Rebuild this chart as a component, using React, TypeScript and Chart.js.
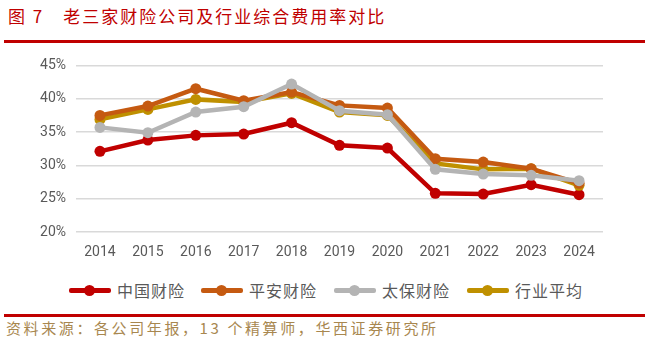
import React, { useEffect, useRef } from "react";
import { Chart, registerables } from "chart.js";

Chart.register(...registerables);

const years = ["2014", "2015", "2016", "2017", "2018", "2019", "2020", "2021", "2022", "2023", "2024"];
const picc = [32.1, 33.8, 34.5, 34.7, 36.4, 33.0, 32.6, 25.8, 25.7, 27.1, 25.6];
const pingan = [37.5, 38.9, 41.5, 39.7, 41.0, 39.0, 38.6, 31.0, 30.5, 29.5, 27.3];
const cpic = [35.7, 34.9, 38.0, 38.8, 42.2, 38.2, 37.6, 29.4, 28.7, 28.5, 27.7];
const industry = [36.9, 38.4, 39.9, 39.5, 40.8, 38.0, 37.5, 30.3, 29.4, 29.5, 27.0];
const seriesNames = ["中国财险", "平安财险", "太保财险", "行业平均"];
const seriesColors = ["#C00000", "#C55A11", "#B4B4B4", "#BF9000"];
const yTicks = { min: 20, max: 45, step: 5 };

const titleText = "图 7　老三家财险公司及行业综合费用率对比";
const sourceText = "资料来源：各公司年报，13 个精算师，华西证券研究所";

export default function App() {
  const ref = useRef<HTMLCanvasElement | null>(null);

  useEffect(() => {
    if (!ref.current) return;
    const dataSets = [picc, pingan, cpic, industry];
    const order = [2, 1, 3, 0];
    const chart = new Chart(ref.current, {
      type: "line",
      data: {
        labels: years,
        datasets: order.map((i) => ({
          label: seriesNames[i],
          data: dataSets[i],
          borderColor: seriesColors[i],
          backgroundColor: seriesColors[i],
          borderWidth: 4.5,
          pointRadius: 5.5,
          pointHoverRadius: 5.5,
          pointBorderWidth: 0,
          tension: 0,
        })),
      },
      options: {
        animation: false,
        responsive: false,
        maintainAspectRatio: false,
        layout: { padding: { top: 11, right: 46, left: 0, bottom: 0 } },
        plugins: { legend: { display: false }, tooltip: { enabled: false } },
        scales: {
          x: {
            offset: true,
            grid: { display: false, drawTicks: false },
            border: { display: false },
            ticks: {
              color: "#595959",
              font: { family: "Roboto, 'Liberation Sans', Arial", size: 14 },
              padding: 12,
              maxRotation: 0,
              autoSkip: false,
            },
            afterFit: (s: any) => {
              s.height = 38;
            },
          },
          y: {
            min: yTicks.min,
            max: yTicks.max,
            grid: { color: "#D9D9D9", lineWidth: 1.5, drawTicks: false },
            border: { display: false },
            ticks: {
              stepSize: yTicks.step,
              color: "#595959",
              font: { family: "Roboto, 'Liberation Sans', Arial", size: 14 },
              padding: 10,
              callback: (v: any) => v + "%",
            },
            afterFit: (s: any) => {
              s.width = 76;
            },
          },
        },
      },
    });
    return () => chart.destroy();
  }, []);

  const legendX = [69, 201, 334, 467];

  return (
    <div
      style={{
        position: "fixed",
        left: 0,
        top: 0,
        width: 649,
        height: 343,
        background: "#fff",
        fontFamily: "'Noto Sans CJK SC', sans-serif",
        overflow: "hidden",
      }}
    >
      <div
        style={{
          position: "absolute",
          left: 8,
          top: 4,
          fontSize: 17,
          lineHeight: "24px",
          color: "#C00000",
          letterSpacing: 2,
          whiteSpace: "pre",
        }}
      >
        {titleText}
      </div>
      <div style={{ position: "absolute", left: 4, top: 40, width: 641, height: 2.5, background: "#C00000" }} />
      <canvas ref={ref} width={649} height={223} style={{ position: "absolute", left: 0, top: 47 }} />
      {seriesNames.map((n, i) => (
        <div key={n} style={{ position: "absolute", left: legendX[i], top: 279, height: 22 }}>
          <div
            style={{
              position: "absolute",
              left: 0,
              top: 9,
              width: 42,
              height: 4.5,
              borderRadius: 2,
              background: seriesColors[i],
            }}
          />
          <div
            style={{
              position: "absolute",
              left: 15,
              top: 5.5,
              width: 11,
              height: 11,
              borderRadius: "50%",
              background: seriesColors[i],
            }}
          />
          <div
            style={{
              position: "absolute",
              left: 48,
              top: 0,
              fontSize: 16,
              lineHeight: "22px",
              letterSpacing: 1,
              color: "#595959",
              whiteSpace: "nowrap",
            }}
          >
            {n}
          </div>
        </div>
      ))}
      <div style={{ position: "absolute", left: 4, top: 314, width: 641, height: 2.5, background: "#C00000" }} />
      <div
        style={{
          position: "absolute",
          left: 6,
          top: 317,
          fontSize: 15,
          lineHeight: "22px",
          letterSpacing: 2.6,
          color: "#A8874F",
          whiteSpace: "nowrap",
        }}
      >
        {sourceText}
      </div>
    </div>
  );
}
